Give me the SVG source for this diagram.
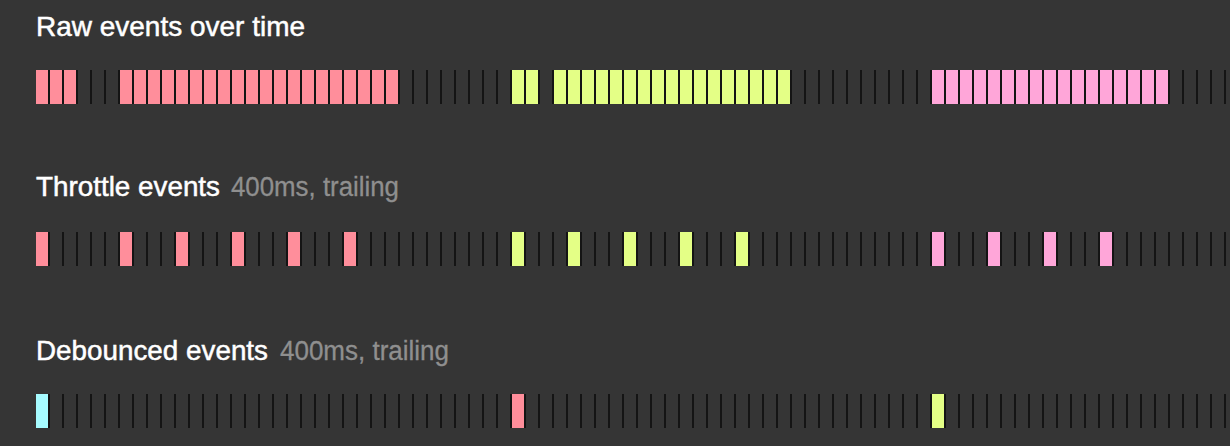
<svg xmlns="http://www.w3.org/2000/svg" width="1230" height="446" viewBox="0 0 1230 446">
<defs>
<pattern id="ticks" x="36" y="0" width="14" height="446" patternUnits="userSpaceOnUse">
<rect x="12" y="0" width="2" height="446" fill="#141414"/>
</pattern>
<style>
.t{font-family:"Liberation Sans",Arial,sans-serif;font-size:28px;fill:#ffffff;stroke:#ffffff;stroke-width:0.5px}
.g{font-family:"Liberation Sans",Arial,sans-serif;font-size:27px;fill:#8f8f8f;stroke:#8f8f8f;stroke-width:0.3px}
.p{fill:#ff8e9b}
.l{fill:#e4ff86}
.k{fill:#ffa6d9}
.c{fill:#a6fbff}
</style>
</defs>
<rect width="1230" height="446" fill="#353535"/>
<g id="raw">
<text class="t" x="36" y="36" textLength="269" lengthAdjust="spacingAndGlyphs">Raw events over time</text>
<rect x="36" y="70" width="1194" height="34" fill="url(#ticks)"/>
<g class="p">
<rect x="36" y="70" width="12" height="34"/><rect x="50" y="70" width="12" height="34"/><rect x="64" y="70" width="12" height="34"/>
<rect x="120" y="70" width="12" height="34"/><rect x="134" y="70" width="12" height="34"/><rect x="148" y="70" width="12" height="34"/><rect x="162" y="70" width="12" height="34"/><rect x="176" y="70" width="12" height="34"/><rect x="190" y="70" width="12" height="34"/><rect x="204" y="70" width="12" height="34"/><rect x="218" y="70" width="12" height="34"/><rect x="232" y="70" width="12" height="34"/><rect x="246" y="70" width="12" height="34"/><rect x="260" y="70" width="12" height="34"/><rect x="274" y="70" width="12" height="34"/><rect x="288" y="70" width="12" height="34"/><rect x="302" y="70" width="12" height="34"/><rect x="316" y="70" width="12" height="34"/><rect x="330" y="70" width="12" height="34"/><rect x="344" y="70" width="12" height="34"/><rect x="358" y="70" width="12" height="34"/><rect x="372" y="70" width="12" height="34"/><rect x="386" y="70" width="12" height="34"/>
</g>
<g class="l">
<rect x="512" y="70" width="12" height="34"/><rect x="526" y="70" width="12" height="34"/>
<rect x="554" y="70" width="12" height="34"/><rect x="568" y="70" width="12" height="34"/><rect x="582" y="70" width="12" height="34"/><rect x="596" y="70" width="12" height="34"/><rect x="610" y="70" width="12" height="34"/><rect x="624" y="70" width="12" height="34"/><rect x="638" y="70" width="12" height="34"/><rect x="652" y="70" width="12" height="34"/><rect x="666" y="70" width="12" height="34"/><rect x="680" y="70" width="12" height="34"/><rect x="694" y="70" width="12" height="34"/><rect x="708" y="70" width="12" height="34"/><rect x="722" y="70" width="12" height="34"/><rect x="736" y="70" width="12" height="34"/><rect x="750" y="70" width="12" height="34"/><rect x="764" y="70" width="12" height="34"/><rect x="778" y="70" width="12" height="34"/>
</g>
<g class="k">
<rect x="932" y="70" width="12" height="34"/><rect x="946" y="70" width="12" height="34"/><rect x="960" y="70" width="12" height="34"/><rect x="974" y="70" width="12" height="34"/><rect x="988" y="70" width="12" height="34"/><rect x="1002" y="70" width="12" height="34"/><rect x="1016" y="70" width="12" height="34"/><rect x="1030" y="70" width="12" height="34"/><rect x="1044" y="70" width="12" height="34"/><rect x="1058" y="70" width="12" height="34"/><rect x="1072" y="70" width="12" height="34"/><rect x="1086" y="70" width="12" height="34"/><rect x="1100" y="70" width="12" height="34"/><rect x="1114" y="70" width="12" height="34"/><rect x="1128" y="70" width="12" height="34"/><rect x="1142" y="70" width="12" height="34"/><rect x="1156" y="70" width="12" height="34"/>
</g>
</g>
<g id="throttle">
<text class="t" x="36" y="196" textLength="184" lengthAdjust="spacingAndGlyphs">Throttle events</text>
<text class="g" x="231" y="196" textLength="168" lengthAdjust="spacingAndGlyphs">400ms, trailing</text>
<rect x="36" y="232" width="1194" height="34" fill="url(#ticks)"/>
<g class="p">
<rect x="36" y="232" width="12" height="34"/><rect x="120" y="232" width="12" height="34"/><rect x="176" y="232" width="12" height="34"/><rect x="232" y="232" width="12" height="34"/><rect x="288" y="232" width="12" height="34"/><rect x="344" y="232" width="12" height="34"/>
</g>
<g class="l">
<rect x="512" y="232" width="12" height="34"/><rect x="568" y="232" width="12" height="34"/><rect x="624" y="232" width="12" height="34"/><rect x="680" y="232" width="12" height="34"/><rect x="736" y="232" width="12" height="34"/>
</g>
<g class="k">
<rect x="932" y="232" width="12" height="34"/><rect x="988" y="232" width="12" height="34"/><rect x="1044" y="232" width="12" height="34"/><rect x="1100" y="232" width="12" height="34"/>
</g>
</g>
<g id="debounced">
<text class="t" x="36" y="360" textLength="232" lengthAdjust="spacingAndGlyphs">Debounced events</text>
<text class="g" x="280" y="360" textLength="169" lengthAdjust="spacingAndGlyphs">400ms, trailing</text>
<rect x="36" y="394" width="1194" height="34" fill="url(#ticks)"/>
<rect class="c" x="36" y="394" width="12" height="34"/>
<rect class="p" x="512" y="394" width="12" height="34"/>
<rect class="l" x="932" y="394" width="12" height="34"/>
</g>
</svg>
